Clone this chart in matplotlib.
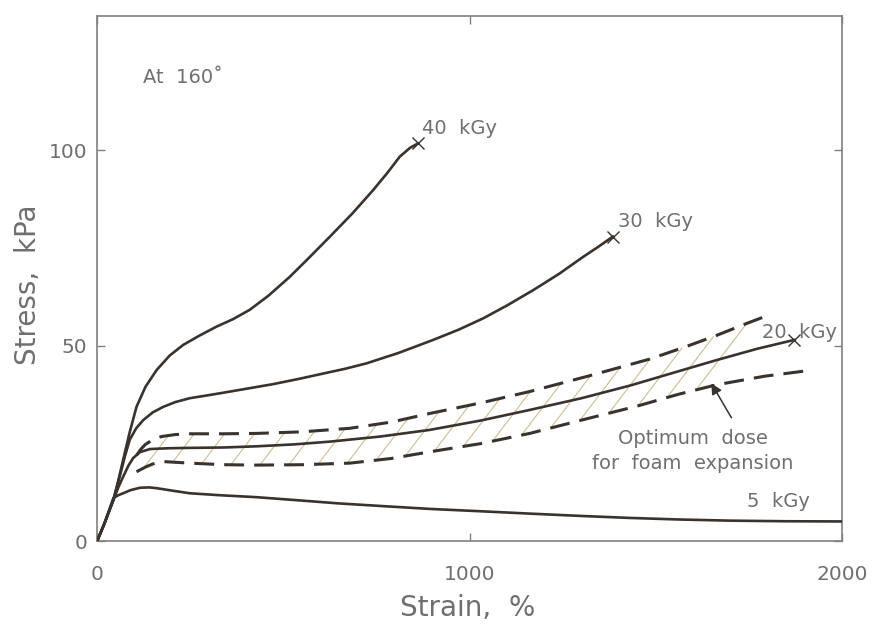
import numpy as np
import matplotlib
matplotlib.use("Agg")
import matplotlib.pyplot as plt

# ---- data (strain %, stress kPa) ----
strain_40 = [0, 20, 44, 57, 70, 88, 106, 130, 160, 195, 231, 275, 321, 365, 410, 460, 517, 570,
             625, 685, 741, 780, 812, 840, 861]
stress_40 = [0, 4.6, 10.6, 15.5, 20.8, 28.0, 34.4, 39.5, 43.8, 47.5, 50.2, 52.6, 54.9, 56.8, 59.2,
             62.8, 67.6, 72.6, 77.9, 83.8, 89.8, 94.3, 98.3, 100.6, 101.7]

strain_30 = [0, 20, 44, 61, 75, 88, 105, 124, 150, 178, 210, 249, 295, 339, 400, 473, 540, 607,
             665, 723, 810, 902, 970, 1036, 1100, 1170, 1240, 1304, 1345, 1384]
stress_30 = [0, 4.6, 10.6, 16.6, 21.8, 26.0, 28.9, 31.0, 33.0, 34.4, 35.6, 36.6, 37.3, 38.0, 39.0,
             40.2, 41.5, 42.9, 44.1, 45.5, 48.2, 51.5, 54.1, 57.0, 60.3, 64.2, 68.4, 72.7, 75.3, 77.9]

strain_20 = [0, 20, 44, 58, 70, 84, 97, 115, 142, 190, 249, 340, 428, 530, 625, 760, 893, 1030,
             1161, 1300, 1429, 1550, 1661, 1770, 1871]
stress_20 = [0, 4.6, 10.6, 14.0, 16.5, 19.3, 21.3, 22.8, 23.6, 23.8, 23.9, 24.0, 24.3, 24.8, 25.5,
             26.8, 28.5, 30.9, 33.6, 36.6, 39.8, 43.2, 46.3, 49.2, 51.5]

strain_5 = [0, 20, 44, 57, 70, 90, 115, 140, 160, 200, 249, 330, 428, 540, 650, 770, 893, 1030,
            1161, 1300, 1429, 1560, 1700, 1850, 2000]
stress_5 = [0, 4.6, 11.1, 11.8, 12.3, 13.1, 13.7, 13.8, 13.6, 13.0, 12.3, 11.8, 11.3, 10.5, 9.7,
            9.0, 8.3, 7.7, 7.1, 6.5, 6.0, 5.6, 5.3, 5.15, 5.1]

band_upper_x = [106, 118, 130, 150, 173, 210, 249, 340, 428, 550, 678, 790, 893, 1030, 1161, 1320,
                1483, 1575, 1661, 1740, 1804]
band_upper_y = [22.0, 23.6, 24.8, 26.0, 26.8, 27.3, 27.5, 27.5, 27.6, 28.0, 28.9, 30.5, 32.7, 35.4,
                38.3, 42.3, 46.6, 49.6, 52.6, 55.6, 57.9]
band_lower_x = [106, 130, 150, 178, 249, 340, 428, 550, 678, 790, 893, 1030, 1161, 1300, 1450, 1560,
                1661, 1790, 1920]
band_lower_y = [17.8, 19.0, 19.8, 20.4, 20.0, 19.6, 19.5, 19.6, 20.0, 21.2, 22.9, 25.0, 27.6, 31.0,
                34.6, 37.6, 40.0, 42.2, 43.8]

x_ticks = [0, 1000, 2000]
y_ticks = [0, 50, 100]

# ---- styling ----
LINE = "#3a322c"
TXT = "#6f6f6f"
AX = "#808080"
HATCH = "#cbbf94"

fig = plt.figure(figsize=(8.73, 6.26), dpi=100)
ax = fig.add_axes([97 / 873, 1 - 541.4 / 626, (842.5 - 97) / 873, (541.4 - 15.5) / 626])
ax.set_xlim(0, 2000)
ax.set_ylim(0, 134.4)

# hatching between dashed limits
k = 0.125  # slope of hatch lines in data units
xs_up = np.array(band_upper_x, float)
ys_up = np.array(band_upper_y, float)
xs_lo = np.array(band_lower_x, float)
ys_lo = np.array(band_lower_y, float)
for x0 in np.arange(125, 1800, 78):
    y0 = np.interp(x0, xs_lo, ys_lo)
    xx = x0 + np.linspace(0, 250, 1000)
    diff = y0 + k * (xx - x0) - np.interp(xx, xs_up, ys_up)
    idx = np.argmax(diff >= 0)
    if diff[idx] < 0 or xx[idx] > xs_up[-1]:
        continue
    x1 = xx[idx]
    y1 = np.interp(x1, xs_up, ys_up)
    ax.plot([x0, x1], [y0, y1], color=HATCH, lw=0.8, zorder=1)

ax.plot(band_upper_x, band_upper_y, color=LINE, lw=2.2, ls=(0, (6.5, 3.3)), zorder=3)
ax.plot(band_lower_x, band_lower_y, color=LINE, lw=2.2, ls=(0, (6.5, 3.3)), zorder=3)

for xs, ys in [(strain_40, stress_40), (strain_30, stress_30), (strain_20, stress_20), (strain_5, stress_5)]:
    ax.plot(xs, ys, color=LINE, lw=1.9, solid_joinstyle="round", zorder=4)

for xs, ys in [(strain_40, stress_40), (strain_30, stress_30), (strain_20, stress_20)]:
    ax.plot(xs[-1], ys[-1], marker="x", ms=8, mew=1.0, color=LINE, zorder=5)

fs = 14
ax.annotate("40  kGy", (strain_40[-1], stress_40[-1]), xytext=(3, 11), textcoords="offset points",
            fontsize=fs, color=TXT, va="center", ha="left")
ax.annotate("30  kGy", (strain_30[-1], stress_30[-1]), xytext=(3.5, 11), textcoords="offset points",
            fontsize=fs, color=TXT, va="center", ha="left")
ax.annotate("20  kGy", (strain_20[-1], stress_20[-1]), xytext=(-23, 5.5), textcoords="offset points",
            fontsize=fs, color=TXT, va="center", ha="left")
ax.text(1745, 10.1, "5  kGy", fontsize=fs, color=TXT, va="center", ha="left")
ax.text(0.062, 0.883, "At  160˚", transform=ax.transAxes, fontsize=fs, color=TXT, va="center", ha="left")
ax.text(1598, 26.4, "Optimum  dose", fontsize=fs, color=TXT, va="center", ha="center")
ax.text(1598, 19.8, "for  foam  expansion", fontsize=fs, color=TXT, va="center", ha="center")
ax.annotate("", xy=(1648, 40.4), xytext=(1702, 31.6),
            arrowprops=dict(arrowstyle="-|>", color=LINE, lw=1.1, mutation_scale=16, shrinkA=0, shrinkB=0),
            zorder=6)

# axes styling
for s in ax.spines.values():
    s.set_color(AX)
    s.set_linewidth(1.2)
ax.set_xticks(x_ticks)
ax.set_yticks(y_ticks)
ax.tick_params(direction="in", length=6, width=1.0, color=AX, top=True, right=True,
               labelsize=14.5, labelcolor=TXT)
ax.tick_params(axis="x", pad=17)
ax.tick_params(axis="y", pad=7)

fig.text(468 / 873, 1 - 608 / 626, "Strain,  %", fontsize=20, color=TXT, ha="center", va="center")
fig.text(28 / 873, 1 - 285 / 626, "Stress,  kPa", fontsize=20, color=TXT, ha="center", va="center",
         rotation=90)

fig.savefig("out.png", dpi=100, facecolor="white")
